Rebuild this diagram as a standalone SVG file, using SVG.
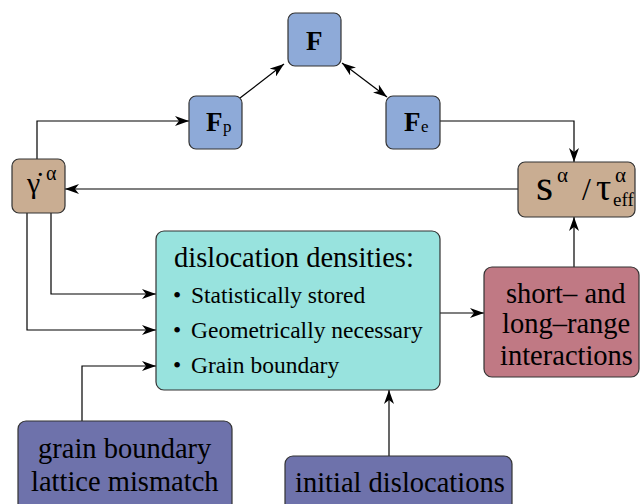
<svg xmlns="http://www.w3.org/2000/svg" width="640" height="504" viewBox="0 0 640 504">
<defs>
<marker id="ah" viewBox="0 0 14 10" refX="14" refY="5" markerWidth="14" markerHeight="10" markerUnits="userSpaceOnUse" orient="auto-start-reverse">
<path d="M0,0 L14,5 L0,10 L4,5 z" fill="#000"/>
</marker>
</defs>
<g id="connectors" fill="none" stroke="#000" stroke-width="1.2">
<path d="M240,98 L284,64" marker-end="url(#ah)"/>
<path d="M342,63 L387,97" marker-start="url(#ah)" marker-end="url(#ah)"/>
<path d="M37,159 L37,121 L189,121" marker-end="url(#ah)"/>
<path d="M440,121 L574,121 L574,162" marker-end="url(#ah)"/>
<path d="M518,189 L65,189" marker-end="url(#ah)"/>
<path d="M51,213 L51,294 L156,294" marker-end="url(#ah)"/>
<path d="M27,213 L27,330 L156,330" marker-end="url(#ah)"/>
<path d="M82,421 L82,366 L156,366" marker-end="url(#ah)"/>
<path d="M440,313 L484,313" marker-end="url(#ah)"/>
<path d="M574,267 L574,217" marker-end="url(#ah)"/>
<path d="M389,456 L389,390" marker-end="url(#ah)"/>
</g>
<g id="F">
<rect x="288" y="13" width="53" height="53" rx="7" fill="#8eaad8" stroke="#333" stroke-width="1.2"/>
<text x="306" y="50" font-family="Liberation Serif" font-weight="bold" font-size="27">F</text>
</g>
<g id="Fp">
<rect x="189" y="96" width="53" height="53" rx="7" fill="#8eaad8" stroke="#333" stroke-width="1.2"/>
<text x="206" y="131" font-family="Liberation Serif" font-weight="bold" font-size="27">F</text>
<text x="223" y="132" font-family="Liberation Serif" font-size="17">p</text>
</g>
<g id="Fe">
<rect x="386" y="96" width="54" height="53" rx="7" fill="#8eaad8" stroke="#333" stroke-width="1.2"/>
<text x="404" y="131" font-family="Liberation Serif" font-weight="bold" font-size="27">F</text>
<text x="421" y="132" font-family="Liberation Serif" font-size="17">e</text>
</g>
<g id="gammadot">
<rect x="12" y="159" width="53" height="54" rx="7" fill="#c9ad92" stroke="#333" stroke-width="1.2"/>
<text x="27" y="193" font-size="30" font-family="Liberation Serif">γ̇</text>
<text x="46" y="180" font-size="20" font-family="Liberation Serif">α</text>
</g>
<g id="slip">
<rect x="518" y="162" width="117" height="55" rx="7" fill="#c9ad92" stroke="#333" stroke-width="1.2"/>
<text x="536" y="200" font-size="44" font-family="Liberation Serif">s</text>
<text x="557" y="182" font-size="21" font-family="Liberation Serif">α</text>
<text x="582" y="200" font-size="32" font-family="Liberation Serif">/</text>
<text x="596" y="200" font-size="38" font-family="Liberation Serif">τ</text>
<text x="615" y="182" font-size="21" font-family="Liberation Serif">α</text>
<text x="613" y="206" font-size="19" font-family="Liberation Serif">eff</text>
</g>
<g id="densities">
<rect x="156" y="231" width="284" height="159" rx="8" fill="#98e3de" stroke="#333" stroke-width="1.2"/>
<text x="174" y="267" font-size="28.5" font-family="Liberation Serif">dislocation densities:</text>
<text x="173" y="303" font-size="23.5" font-family="Liberation Serif">•</text>
<text x="191" y="303" font-size="23.5" font-family="Liberation Serif">Statistically stored</text>
<text x="173" y="338" font-size="23.5" font-family="Liberation Serif">•</text>
<text x="191" y="338" font-size="23.5" font-family="Liberation Serif">Geometrically necessary</text>
<text x="173" y="373" font-size="23.5" font-family="Liberation Serif">•</text>
<text x="191" y="373" font-size="23.5" font-family="Liberation Serif">Grain boundary</text>
</g>
<g id="interactions">
<rect x="484" y="267" width="155" height="110" rx="8" fill="#c07984" stroke="#333" stroke-width="1.2"/>
<text x="506" y="303" font-size="28.5" font-family="Liberation Serif">short– and</text>
<text x="502" y="333" font-size="28.5" font-family="Liberation Serif">long–range</text>
<text x="500" y="365" font-size="28.5" font-family="Liberation Serif">interactions</text>
</g>
<g id="grainboundary">
<rect x="18" y="421" width="214" height="100" rx="8" fill="#6e72ab" stroke="#333" stroke-width="1.2"/>
<text x="38" y="458" font-size="28.5" font-family="Liberation Serif">grain boundary</text>
<text x="31" y="491" font-size="28.5" font-family="Liberation Serif">lattice mismatch</text>
</g>
<g id="initial">
<rect x="285" y="456" width="227" height="70" rx="8" fill="#6e72ab" stroke="#333" stroke-width="1.2"/>
<text x="295" y="492" font-size="28.5" font-family="Liberation Serif">initial dislocations</text>
</g>
</svg>
